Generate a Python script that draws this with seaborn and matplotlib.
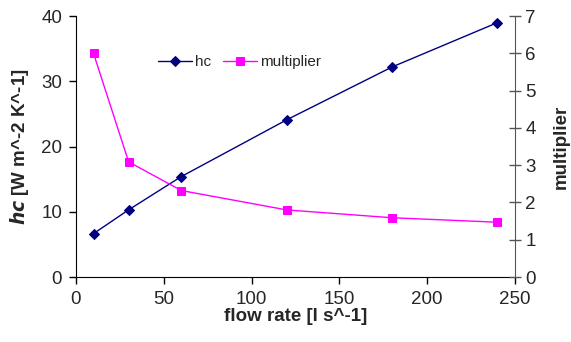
import matplotlib
matplotlib.use('Agg')
import matplotlib.pyplot as plt
import seaborn as sns
import pandas as pd

# values
flow = [10, 30, 60, 120, 180, 240]
hc = [6.65, 10.3, 15.4, 24.1, 32.2, 39.0]
multiplier = [6.0, 3.09, 2.32, 1.80, 1.59, 1.47]

df = pd.DataFrame({'flow': flow, 'hc': hc, 'multiplier': multiplier})

sns.set_style('white')
plt.rcParams['font.family'] = ['Liberation Sans', 'DejaVu Sans']

fig = plt.figure(figsize=(5.71, 3.42), dpi=100)
ax = fig.add_axes([0.133, 0.190, 0.769, 0.763])
ax2 = ax.twinx()

sns.lineplot(data=df, x='flow', y='hc', ax=ax, color='#000080', marker='D',
             markersize=5, markeredgecolor='#000080', linewidth=1, label='hc', legend=False)
sns.lineplot(data=df, x='flow', y='multiplier', ax=ax2, color='#FF00FF', marker='s',
             markersize=6, markeredgecolor='#FF00FF', linewidth=1, label='multiplier', legend=False)

ax.set_xlim(0, 250)
ax.set_ylim(0, 40)
ax2.set_ylim(0, 7)
ax.set_xticks([0, 50, 100, 150, 200, 250])
ax.set_yticks([0, 10, 20, 30, 40])
ax2.set_yticks(range(8))

for a in (ax, ax2):
    for s in a.spines.values():
        s.set_visible(False)
ax.spines['left'].set_visible(True)
ax.spines['bottom'].set_visible(True)
ax2.spines['right'].set_visible(True)
ax.spines['left'].set_color('black')
ax.spines['bottom'].set_color('black')
ax2.spines['right'].set_color('#555555')

ax.tick_params(axis='both', direction='out', length=5, width=1, labelsize=13.5,
               left=True, bottom=True, color='black', pad=5)
ax2.tick_params(axis='y', direction='inout', length=9, width=1, labelsize=13.5,
                right=True, color='#555555', pad=3)

ax.set_xlabel('flow rate [l s^-1]', fontsize=13.5, fontweight='bold', labelpad=0)
ax.set_ylabel(r'$\bfit{hc}$ [W m^-2 K^-1]', fontsize=13.5, fontweight='bold', labelpad=7)
ax2.set_ylabel('multiplier', fontsize=13.5, fontweight='bold', labelpad=12)

h1, l1 = ax.get_legend_handles_labels()
h2, l2 = ax2.get_legend_handles_labels()
ax.legend(h1 + h2, l1 + l2, loc='upper left', bbox_to_anchor=(0.173, 0.874), ncol=2,
          frameon=False, fontsize=11, handlelength=2.2, columnspacing=0.8, handletextpad=0.2,
          borderaxespad=0)

fig.savefig('out.png', dpi=100)
